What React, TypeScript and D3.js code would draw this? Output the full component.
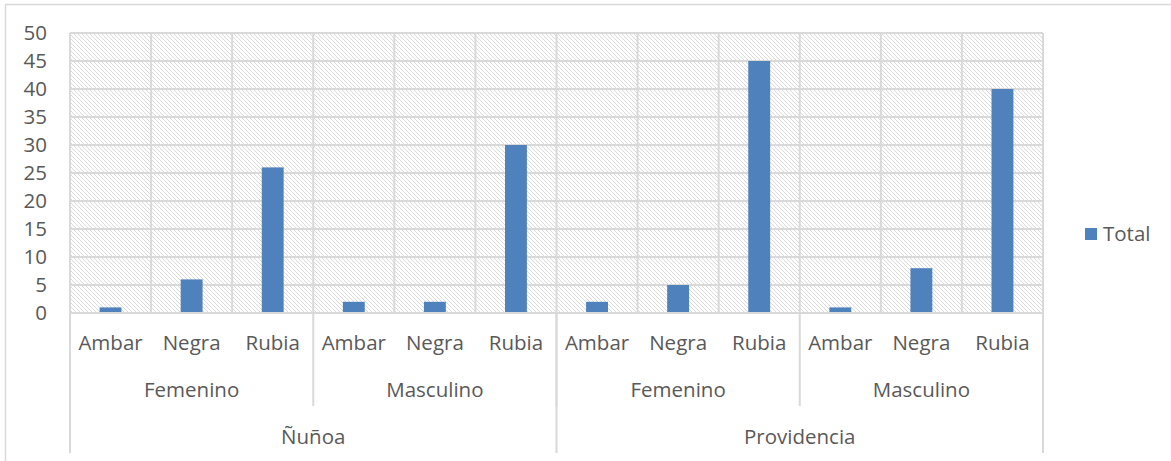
import React from "react";
import * as d3 from "d3";

// Beer colour counts by commune and gender
const communes = ["Ñuñoa", "Providencia"];
const genders = ["Femenino", "Masculino"];
const beers = ["Ambar", "Negra", "Rubia"];
const totals = [1, 6, 26, 2, 2, 30, 2, 5, 45, 1, 8, 40];
const yTicks = [0, 5, 10, 15, 20, 25, 30, 35, 40, 45, 50];
const seriesName = "Total";

const W = 1171;
const H = 461;
const plot = { left: 70, right: 1043, top: 33, bottom: 313 };
const BAR = "#4f81bd";
const GRID = "#d9d9d9";
const HATCH = "#dadada";
const TEXT = "#595959";
const FONT = "'Open Sans', 'Noto Sans', sans-serif";
const FS = 20.5;

type Row = { key: string; commune: string; gender: string; beer: string; value: number };

const rows: Row[] = [];
communes.forEach((c, ci) =>
  genders.forEach((g, gi) =>
    beers.forEach((b, bi) => {
      const idx = ci * genders.length * beers.length + gi * beers.length + bi;
      rows.push({ key: `${c}-${g}-${b}`, commune: c, gender: g, beer: b, value: totals[idx] });
    })
  )
);

export default function App() {
  const x = d3
    .scaleBand<string>()
    .domain(rows.map((r) => r.key))
    .range([plot.left, plot.right])
    .paddingInner(0.73)
    .paddingOuter(0.365);
  const band = d3.scaleBand<string>().domain(rows.map((r) => r.key)).range([plot.left, plot.right]);
  const y = d3.scaleLinear().domain([0, 50]).range([plot.bottom, plot.top]);
  const step = band.step();

  const genderGroups: { label: string; start: number; end: number }[] = [];
  const communeGroups: { label: string; start: number; end: number }[] = [];
  communes.forEach((c, ci) => {
    const n = genders.length * beers.length;
    communeGroups.push({ label: c, start: plot.left + ci * n * step, end: plot.left + (ci + 1) * n * step });
    genders.forEach((g, gi) => {
      const s = plot.left + (ci * n + gi * beers.length) * step;
      genderGroups.push({ label: g, start: s, end: s + beers.length * step });
    });
  });

  return (
    <svg width={W} height={H} style={{ display: "block", position: "absolute", left: 0, top: 0 }}>
      <defs>
        <pattern id="hatch" width={4} height={4} patternUnits="userSpaceOnUse">
          <rect width={4} height={4} fill="#ffffff" />
          <rect x={0} y={0} width={1} height={1} fill={HATCH} />
          <rect x={1} y={1} width={1} height={1} fill={HATCH} />
          <rect x={2} y={2} width={1} height={1} fill={HATCH} />
          <rect x={3} y={3} width={1} height={1} fill={HATCH} />
        </pattern>
      </defs>
      <rect x={0} y={0} width={W} height={H} fill="#ffffff" />
      {/* chart frame */}
      <rect x={5.5} y={4.5} width={W + 10} height={H + 10} fill="none" stroke={GRID} strokeWidth={1.5} />

      {/* hatched plot area */}
      <rect
        x={plot.left}
        y={plot.top}
        width={plot.right - plot.left}
        height={plot.bottom - plot.top}
        fill="url(#hatch)"
      />

      {/* horizontal gridlines */}
      {yTicks.map((t) => (
        <line key={`h${t}`} x1={plot.left} x2={plot.right} y1={y(t)} y2={y(t)} stroke={GRID} strokeWidth={2} />
      ))}
      {/* vertical gridlines at category boundaries */}
      {d3.range(rows.length + 1).map((i) => (
        <line
          key={`v${i}`}
          x1={plot.left + i * step}
          x2={plot.left + i * step}
          y1={plot.top}
          y2={plot.bottom}
          stroke={GRID}
          strokeWidth={2}
        />
      ))}

      {/* bars */}
      {rows.map((r) => (
        <rect
          key={r.key}
          x={x(r.key)}
          y={y(r.value)}
          width={x.bandwidth()}
          height={y(0) - y(r.value)}
          fill={BAR}
        />
      ))}

      {/* y-axis labels */}
      {yTicks.map((t) => (
        <text
          key={`yl${t}`}
          x={47}
          y={y(t)}
          dy="0.35em"
          textAnchor="end"
          fontFamily={FONT}
          fontSize={FS}
          fill={TEXT}
        >
          {t}
        </text>
      ))}

      {/* multi-level category axis */}
      <line x1={plot.left} x2={plot.right} y1={plot.bottom} y2={plot.bottom} stroke={GRID} strokeWidth={2} />
      {genderGroups.map((g, i) => (
        <line key={`gs${i}`} x1={g.end} x2={g.end} y1={plot.bottom} y2={406} stroke={GRID} strokeWidth={2} />
      ))}
      {communeGroups.map((c, i) => (
        <line key={`cs${i}`} x1={c.end} x2={c.end} y1={plot.bottom} y2={453} stroke={GRID} strokeWidth={2} />
      ))}
      <line x1={plot.left} x2={plot.left} y1={plot.bottom} y2={453} stroke={GRID} strokeWidth={2} />

      {rows.map((r) => (
        <text
          key={`cl${r.key}`}
          x={(band(r.key) as number) + step / 2}
          y={343}
          dy="0.35em"
          textAnchor="middle"
          fontFamily={FONT}
          fontSize={FS}
          fill={TEXT}
        >
          {r.beer}
        </text>
      ))}
      {genderGroups.map((g, i) => (
        <text
          key={`gl${i}`}
          x={(g.start + g.end) / 2}
          y={390}
          dy="0.35em"
          textAnchor="middle"
          fontFamily={FONT}
          fontSize={FS}
          fill={TEXT}
        >
          {g.label}
        </text>
      ))}
      {communeGroups.map((c, i) => (
        <text
          key={`ml${i}`}
          x={(c.start + c.end) / 2}
          y={437}
          dy="0.35em"
          textAnchor="middle"
          fontFamily={FONT}
          fontSize={FS}
          fill={TEXT}
        >
          {c.label}
        </text>
      ))}

      {/* legend */}
      <rect x={1085} y={228} width={12} height={12} fill={BAR} />
      <text x={1103} y={234} dy="0.35em" fontFamily={FONT} fontSize={FS} fill={TEXT}>
        {seriesName}
      </text>
    </svg>
  );
}
